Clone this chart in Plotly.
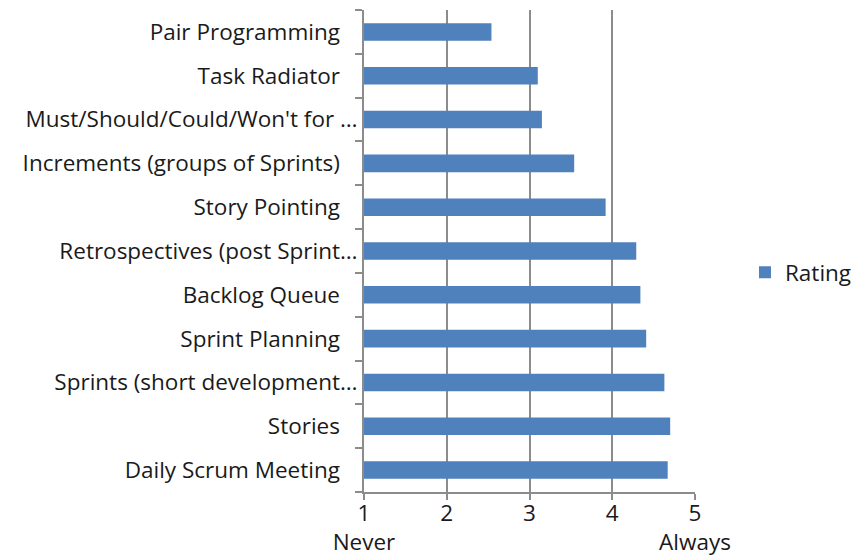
import plotly.graph_objects as go

categories = [
    "Pair Programming",
    "Task Radiator",
    "Must/Should/Could/Won't for …",
    "Increments (groups of Sprints)",
    "Story Pointing",
    "Retrospectives (post Sprint…",
    "Backlog Queue",
    "Sprint Planning",
    "Sprints (short development…",
    "Stories",
    "Daily Scrum Meeting",
]
ratings = [2.54, 3.10, 3.15, 3.54, 3.92, 4.29, 4.34, 4.41, 4.63, 4.70, 4.67]
x_ticks = [1, 2, 3, 4, 5]
x_ticklabels = ["1<br>Never", "2", "3", "4", "5<br>Always"]

ticktext = [c if c.endswith("…") else c + "\u00a0\u00a0\u00a0" for c in categories]

fig = go.Figure()
fig.add_trace(go.Bar(
    y=categories, x=[r - 1 for r in ratings], base=1, orientation="h", name="Rating",
    marker=dict(color="#4F81BD", line=dict(width=0)),
    width=0.4,
))

fig.update_layout(
    width=862, height=556,
    margin=dict(l=364, r=167, t=10, b=64, autoexpand=False),
    paper_bgcolor="white", plot_bgcolor="white",
    font=dict(family="Open Sans", size=22.5, color="#1a1a1a"),
    showlegend=True,
    legend=dict(x=1.151, y=0.455, xanchor="left", yanchor="middle",
                font=dict(size=22.5), itemwidth=30),
    xaxis=dict(
        range=[1, 5], tickvals=x_ticks, ticktext=x_ticklabels,
        showgrid=True, gridcolor="#8c8c8c", gridwidth=2,
        showline=True, linecolor="#8c8c8c", linewidth=2,
        ticks="outside", ticklen=6, tickcolor="#8c8c8c", tickwidth=2,
        ticklabelstandoff=-6,
        zeroline=False, fixedrange=True,
    ),
    yaxis=dict(
        categoryorder="array", categoryarray=categories,
        tickvals=categories, ticktext=ticktext,
        autorange="reversed",
        showline=True, linecolor="#8c8c8c", linewidth=2,
        ticks="outside", ticklen=7, tickcolor="#8c8c8c", tickwidth=2,
        tickson="boundaries", showgrid=False, fixedrange=True,
    ),
)

fig.write_html("out.html")
